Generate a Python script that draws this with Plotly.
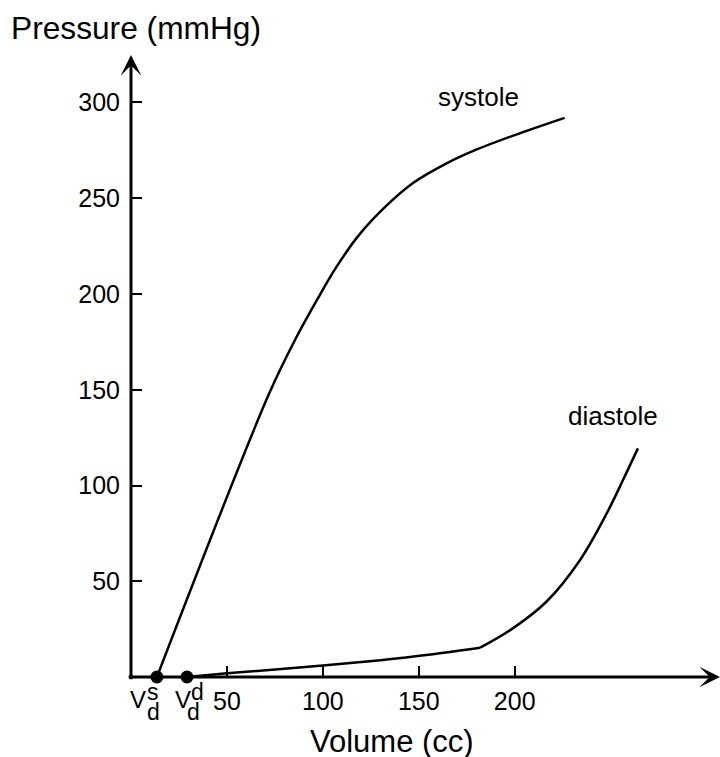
import plotly.graph_objects as go

# ---- data ----
systole_vol = [13.5, 72, 86, 97, 107, 119, 133, 147, 164, 179, 200, 226]
systole_pres = [0, 148, 177, 197, 214, 231, 246, 258, 268, 275, 283, 292]

diastole_vol = [29.2, 50, 100, 130, 155, 182, 199, 216.5, 234, 248, 256.5, 264.2]
diastole_pres = [0, 1.9, 6.0, 8.8, 11.6, 15.3, 25.4, 39.3, 61.0, 85.5, 103.0, 119.4]
KINK = 5  # index of the corner in the diastole curve

vd_vol = [13.5, 29.2]          # V_d^s, V_d^d
vd_pres = [0, 0]

x_ticks = [50, 100, 150, 200]
y_ticks = [50, 100, 150, 200, 250, 300]

X_MAX = 307
Y_MAX = 324.8

FONT = "Liberation Sans, Arial, Helvetica, sans-serif"
W, H = 720, 757
L, R, T, B = 131, 0, 55, 80
PW, PH = W - L - R, H - T - B


def pxx(x):  # pixel -> paper x
    return (x - L) / PW


def pyy(y):  # pixel -> paper y
    return (H - B - y) / PH


fig = go.Figure()

fig.add_trace(go.Scatter(x=systole_vol, y=systole_pres, mode="lines",
                         line=dict(color="black", width=2.5, shape="spline", smoothing=1.0),
                         cliponaxis=False, hoverinfo="skip"))
fig.add_trace(go.Scatter(x=diastole_vol[:KINK + 1], y=diastole_pres[:KINK + 1], mode="lines",
                         line=dict(color="black", width=2.5, shape="spline", smoothing=1.0),
                         cliponaxis=False, hoverinfo="skip"))
fig.add_trace(go.Scatter(x=diastole_vol[KINK:], y=diastole_pres[KINK:], mode="lines",
                         line=dict(color="black", width=2.5, shape="spline", smoothing=1.0),
                         cliponaxis=False, hoverinfo="skip"))
fig.add_trace(go.Scatter(x=vd_vol, y=vd_pres, mode="markers",
                         marker=dict(color="black", size=13),
                         cliponaxis=False, hoverinfo="skip"))

annotations = []
# axis arrows
annotations.append(dict(x=X_MAX, y=0, ax=-2, ay=0, xref="x", yref="y", axref="x", ayref="y",
                        showarrow=True, arrowhead=3, arrowsize=1.15, arrowwidth=3,
                        arrowcolor="black", text="", standoff=0))
annotations.append(dict(x=0, y=Y_MAX, ax=0, ay=-2, xref="x", yref="y", axref="x", ayref="y",
                        showarrow=True, arrowhead=3, arrowsize=1.15, arrowwidth=3,
                        arrowcolor="black", text="", standoff=0))


def txt(t, x, y, size, xanchor="center", yanchor="middle"):
    annotations.append(dict(text=t, x=pxx(x), y=pyy(y), xref="paper", yref="paper",
                            showarrow=False, xanchor=xanchor, yanchor=yanchor,
                            font=dict(family=FONT, size=size, color="black")))


txt("Pressure (mmHg)", 9, 28, 31.7, xanchor="left")
txt("Volume (cc)", 391.5, 741, 31)
txt("systole", 478.5, 97, 26)
txt("diastole", 613, 416, 26)

# V_d labels (superscript stacked over subscript)
txt("V", 137.5, 699, 24)
txt("s", 153, 692, 23)
txt("d", 153.5, 712, 23)
txt("V", 182.5, 699, 24)
txt("d", 197.5, 692, 23)
txt("d", 193.5, 712, 23)

fig.update_layout(
    width=W, height=H,
    margin=dict(l=L, r=R, t=T, b=B, pad=0),
    paper_bgcolor="white", plot_bgcolor="white",
    showlegend=False,
    annotations=annotations,
    font=dict(family=FONT, color="black"),
    xaxis=dict(range=[0, X_MAX], showgrid=False, zeroline=False, showline=False,
               tickmode="array", tickvals=x_ticks, ticktext=[str(v) for v in x_ticks],
               ticks="inside", ticklen=11, tickwidth=2, tickcolor="black",
               tickfont=dict(family=FONT, size=25, color="black"),
               ticklabelstandoff=7, fixedrange=True),
    yaxis=dict(range=[0, Y_MAX], showgrid=False, zeroline=False, showline=False,
               tickmode="array", tickvals=y_ticks, ticktext=[str(v) for v in y_ticks],
               ticks="inside", ticklen=11, tickwidth=2, tickcolor="black",
               tickfont=dict(family=FONT, size=25, color="black"),
               ticklabelstandoff=10, fixedrange=True),
)

fig.write_html("out.html")
